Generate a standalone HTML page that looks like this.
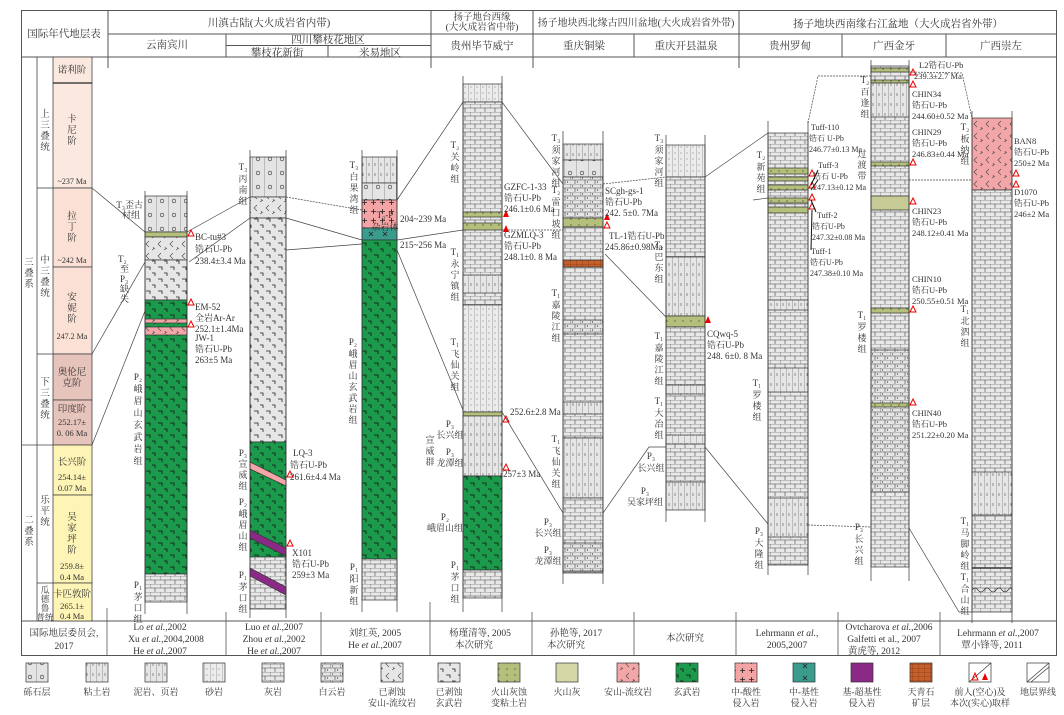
<!DOCTYPE html>
<html><head><meta charset="utf-8"><style>
html,body{margin:0;padding:0;background:#fff}
svg text{font-family:"Liberation Serif","Noto Serif CJK SC","Noto Sans CJK SC",serif;fill:#333}
</style></head><body>
<svg width="1064" height="710" viewBox="0 0 1064 710" xmlns="http://www.w3.org/2000/svg">
<defs>
<pattern id="ls" width="10" height="8" patternUnits="userSpaceOnUse"><rect width="10" height="8" fill="#e8e8e8"/><path d="M0 0H10M0 4H10M0 0V4M5 4V8" stroke="#444" stroke-width=".6"/></pattern>
<pattern id="dol" width="10" height="8" patternUnits="userSpaceOnUse"><rect width="10" height="8" fill="#e4e4e4"/><path d="M0 0H10M0 4H10M0 0V4M5 4V8M2.5 1V3M7.5 5V7" stroke="#444" stroke-width=".6"/></pattern>
<pattern id="bg" width="12" height="12" patternUnits="userSpaceOnUse"><rect width="12" height="12" fill="#1c9a4b"/><path d="M2 3H6V6M8 9H11V12" stroke="#111" stroke-width=".8" fill="none"/></pattern>
<pattern id="wb" width="12" height="12" patternUnits="userSpaceOnUse"><rect width="12" height="12" fill="#e6e6e6"/><path d="M2 3H6V6M8 9H11V12" stroke="#222" stroke-width=".8" fill="none"/></pattern>
<pattern id="cg" width="12" height="14" patternUnits="userSpaceOnUse"><rect width="12" height="14" fill="#e4e4e4"/><path d="M0 0V14" stroke="#555" stroke-width=".6"/><circle cx="6" cy="5" r="1.8" fill="none" stroke="#333" stroke-width=".6"/></pattern>
<pattern id="md" width="6" height="10" patternUnits="userSpaceOnUse"><rect width="6" height="10" fill="#e6e6e6"/><path d="M0 0V10M3 3V6" stroke="#555" stroke-width=".6"/></pattern>
<pattern id="ss" width="6" height="6" patternUnits="userSpaceOnUse"><rect width="6" height="6" fill="#ececec"/><path d="M0 0V6" stroke="#666" stroke-width=".6"/><circle cx="3" cy="3" r=".5" fill="#555"/></pattern>
<pattern id="tf" width="8" height="6" patternUnits="userSpaceOnUse"><rect width="8" height="6" fill="#b4bf7c"/><circle cx="3" cy="3" r=".6" fill="#333"/></pattern>
<pattern id="an" width="12" height="12" patternUnits="userSpaceOnUse"><rect width="12" height="12" fill="#e6e6e6"/><path d="M5 1L2 4L5 7M9 7L10 9M8 10L11 8" stroke="#444" stroke-width=".6" fill="none"/></pattern>
<pattern id="pk" width="12" height="12" patternUnits="userSpaceOnUse"><rect width="12" height="12" fill="#f3a6a8"/><path d="M5 1L2 4L5 7M9 7L10 9M8 10L11 8" stroke="#444" stroke-width=".6" fill="none"/></pattern>
<pattern id="ip" width="9" height="9" patternUnits="userSpaceOnUse"><rect width="9" height="9" fill="#f4a4a4"/><path d="M2 4.5H7M4.5 2V7" stroke="#222" stroke-width=".8"/></pattern>
<pattern id="te" width="14" height="12" patternUnits="userSpaceOnUse"><rect width="14" height="12" fill="#3a9c8c"/><path d="M5 4L9 8M9 4L5 8" stroke="#222" stroke-width=".8"/></pattern>
<pattern id="or" width="6" height="4" patternUnits="userSpaceOnUse"><rect width="6" height="4" fill="#c5602a"/><path d="M0 0V4M0 0H6" stroke="#6a2a10" stroke-width=".5"/></pattern>
</defs>

<!-- frame -->
<g stroke="#555" stroke-width="1" fill="none">
<rect x="21.5" y="10.5" width="1035" height="645"/>
<line x1="21" y1="57" x2="1057" y2="57"/>
<line x1="108" y1="34" x2="1057" y2="34"/>
<line x1="226" y1="45.5" x2="431" y2="45.5"/>
<line x1="108" y1="10" x2="108" y2="68"/>
<line x1="226" y1="34" x2="226" y2="57"/>
<line x1="328" y1="45.5" x2="328" y2="57"/>
<line x1="431" y1="10" x2="431" y2="68"/>
<line x1="533" y1="10" x2="533" y2="68"/>
<line x1="634" y1="34" x2="634" y2="57"/>
<line x1="739" y1="10" x2="739" y2="68"/>
<line x1="842" y1="34" x2="842" y2="57"/>
<line x1="946" y1="34" x2="946" y2="57"/>
<line x1="21" y1="621" x2="1057" y2="621"/>
<g stroke-width=".8">
<line x1="107" y1="608" x2="107" y2="656"/><line x1="226" y1="612" x2="226" y2="656"/><line x1="321" y1="612" x2="321" y2="656"/>
<line x1="430" y1="602" x2="430" y2="656"/><line x1="532" y1="612" x2="532" y2="656"/><line x1="634" y1="612" x2="634" y2="656"/>
<line x1="736" y1="612" x2="736" y2="656"/><line x1="838" y1="612" x2="838" y2="656"/><line x1="940" y1="612" x2="940" y2="656"/>
</g>
</g>
<!-- headers -->
<g font-size="10.5" text-anchor="middle">
<text x="64" y="37">国际年代地层表</text>
<text x="269" y="26">川滇古陆(大火成岩省内带)</text>
<text x="482" y="20" font-size="9.5">扬子地台西缘</text><text x="482" y="30" font-size="9.5">(大火成岩省中带)</text>
<text x="636" y="26" font-size="10">扬子地块西北缘古四川盆地(大火成岩省外带)</text>
<text x="898" y="27">扬子地块西南缘右江盆地（大火成岩省外带）</text>
<text x="167" y="48">云南宾川</text>
<text x="328" y="43">四川攀枝花地区</text>
<text x="277" y="56">攀枝花新街</text><text x="380" y="56">米易地区</text>
<text x="482" y="49">贵州毕节威宁</text>
<text x="584" y="49">重庆铜梁</text><text x="686" y="49">重庆开县温泉</text>
<text x="790" y="49">贵州罗甸</text><text x="894" y="49">广西金牙</text><text x="1001" y="49">广西崇左</text>
</g>

<!-- timescale -->
<g stroke="#444" stroke-width=".8">
<rect x="53" y="57" width="39" height="26" fill="#fbe9df"/>
<rect x="53" y="83" width="39" height="105" fill="#fbe9df"/>
<rect x="53" y="188" width="39" height="79" fill="#fbe1d5"/>
<rect x="53" y="267" width="39" height="87" fill="#fbe1d5"/>
<rect x="53" y="354" width="39" height="46" fill="#e6c3bb"/>
<rect x="53" y="400" width="39" height="45" fill="#e6c3bb"/>
<rect x="53" y="445" width="39" height="50" fill="#fdf4b5"/>
<rect x="53" y="495" width="39" height="88" fill="#fdf4b5"/>
<rect x="53" y="583" width="39" height="38" fill="#fdf4b5"/>
<line x1="37" y1="57" x2="37" y2="621" fill="none"/>
<line x1="37" y1="188" x2="53" y2="188"/><line x1="37" y1="354" x2="53" y2="354"/><line x1="22" y1="445" x2="53" y2="445"/><line x1="37" y1="583" x2="53" y2="583"/>
<line x1="53" y1="83" x2="92" y2="83" stroke-width="1.6"/>
</g>
<g font-size="9.5" text-anchor="middle">
<text x="72" y="73">诺利阶</text>
<text x="72" y="122">卡</text><text x="72" y="133">尼</text><text x="72" y="144">阶</text><text x="72" y="184" font-size="8">~237 Ma</text>
<text x="72" y="219">拉</text><text x="72" y="230">丁</text><text x="72" y="241">阶</text><text x="72" y="263" font-size="8">~242 Ma</text>
<text x="72" y="300">安</text><text x="72" y="311">妮</text><text x="72" y="322">阶</text><text x="72" y="339" font-size="8">247.2 Ma</text>
<text x="72" y="375">奥伦尼</text><text x="72" y="386">克阶</text>
<text x="72" y="412">印度阶</text><text x="72" y="425" font-size="8.5">252.17±</text><text x="72" y="436" font-size="8.5">0. 06 Ma</text>
<text x="72" y="465">长兴阶</text><text x="72" y="480" font-size="8.5">254.14±</text><text x="72" y="491" font-size="8.5">0.07 Ma</text>
<text x="72" y="520">吴</text><text x="72" y="531">家</text><text x="72" y="542">坪</text><text x="72" y="553">阶</text><text x="72" y="569" font-size="8.5">259.8±</text><text x="72" y="580" font-size="8.5">0.4 Ma</text>
<text x="72" y="597">卡匹敦阶</text><text x="72" y="609" font-size="8.5">265.1±</text><text x="72" y="619" font-size="8.5">0.4 Ma</text>
<text x="45" y="117">上</text><text x="45" y="128">三</text><text x="45" y="139">叠</text><text x="45" y="150">统</text>
<text x="45" y="263">中</text><text x="45" y="274">三</text><text x="45" y="285">叠</text><text x="45" y="296">统</text>
<text x="45" y="385">下</text><text x="45" y="396">三</text><text x="45" y="407">叠</text><text x="45" y="418">统</text>
<text x="45" y="503">乐</text><text x="45" y="514">平</text><text x="45" y="525">统</text>
<text x="45" y="593" font-size="8.5">瓜</text><text x="45" y="602" font-size="8.5">德</text><text x="45" y="611" font-size="8.5">鲁</text><text x="45" y="620" font-size="8.5">普统</text>
<text x="29" y="265">三</text><text x="29" y="276">叠</text><text x="29" y="287">系</text>
<text x="29" y="523">二</text><text x="29" y="534">叠</text><text x="29" y="545">系</text>
</g>

<!-- connectors -->
<g stroke="#444" stroke-width=".7" fill="none">
<path d="M92 188L145 232"/><path d="M187 232L250 197"/><path d="M189 262L250 218"/>
<path d="M92 354L145 262"/><path d="M92 445L145 311"/>
<path d="M286 197L362 210" stroke-dasharray="2 1"/><path d="M286 218L362 240"/><path d="M286 250L362 244"/>
<path d="M397 200L463 102"/><path d="M397 240L463 230"/><path d="M397 250L463 410"/>
<path d="M502 102L563 184"/><path d="M502 230L563 230" stroke-dasharray="2 1"/><path d="M502 412L563 513"/>
<path d="M603 184L666 177" stroke-dasharray="2 1"/><path d="M605 254L666 317"/><path d="M603 513L649 447L666 447"/>
<path d="M705 177L768 133"/><path d="M705 447L768 524"/><path d="M753 200L768 198"/>
<path d="M808 123L818 76L871 76" stroke-dasharray="2 1"/><path d="M808 525L871 527" stroke-dasharray="2 1"/>
<path d="M909 72L962 73L972 118" stroke-dasharray="2 1"/><path d="M909 180L1012 180" stroke-dasharray="2 1"/><path d="M909 528L959 612L972 612"/>
</g>

<!-- column 1 -->
<g stroke="#333" stroke-width=".7">
<rect x="145" y="196" width="42" height="36" fill="url(#cg)"/>
<rect x="145" y="232" width="42" height="5" fill="url(#tf)"/>
<rect x="145" y="237" width="42" height="23" fill="url(#an)"/>
<rect x="145" y="260" width="42" height="40" fill="url(#wb)"/>
<rect x="145" y="300" width="42" height="274" fill="url(#bg)"/>
<rect x="145" y="319" width="42" height="4" fill="url(#pk)"/>
<rect x="145" y="327" width="42" height="8" fill="url(#pk)"/>
<rect x="145" y="574" width="42" height="28" fill="url(#ls)"/>
<path d="M145 191V614M187 191V614" fill="none"/>
</g>
<!-- column 2 -->
<g stroke="#333" stroke-width=".7">
<rect x="250" y="157" width="36" height="40" fill="url(#cg)"/>
<rect x="250" y="197" width="36" height="21" fill="url(#an)"/>
<rect x="250" y="218" width="36" height="224" fill="url(#wb)"/>
<rect x="250" y="442" width="36" height="115" fill="url(#bg)"/>
<path d="M250 462L286 480V486L250 469Z" fill="#f3a6a8"/>
<path d="M250 530L286 548V556L250 538Z" fill="#8b2a86"/>
<rect x="250" y="557" width="36" height="52" fill="url(#ls)"/>
<path d="M250 568L286 587V595L250 576Z" fill="#8b2a86"/>
<path d="M250 150V618M286 150V618" fill="none"/>
</g>
<!-- column 3 -->
<g stroke="#333" stroke-width=".7">
<rect x="362" y="157" width="35" height="26" fill="url(#md)"/>
<rect x="362" y="183" width="35" height="17" fill="url(#cg)"/>
<rect x="362" y="200" width="35" height="28" fill="url(#ip)"/>
<rect x="362" y="228" width="35" height="12" fill="url(#te)"/>
<rect x="362" y="240" width="35" height="319" fill="url(#bg)"/>
<rect x="362" y="559" width="35" height="41" fill="url(#ls)"/>
<path d="M362 150V612M397 150V612" fill="none"/>
</g>
<!-- column 4 -->
<g stroke="#333" stroke-width=".7">
<rect x="463" y="84" width="39" height="18" fill="url(#ss)"/>
<rect x="463" y="102" width="39" height="203" fill="url(#ls)"/>
<rect x="463" y="212" width="39" height="5" fill="url(#tf)"/>
<rect x="463" y="223" width="39" height="7" fill="url(#tf)"/>
<rect x="463" y="275" width="39" height="18" fill="url(#md)"/>
<rect x="463" y="305" width="39" height="107" fill="url(#ss)"/>
<rect x="463" y="412" width="39" height="4" fill="url(#tf)"/>
<rect x="463" y="416" width="39" height="60" fill="url(#md)"/>
<rect x="463" y="476" width="39" height="94" fill="url(#bg)"/>
<rect x="463" y="570" width="39" height="28" fill="url(#ls)"/>
<path d="M463 76V612M502 76V612" fill="none"/>
</g>
<!-- column 5 -->
<g stroke="#333" stroke-width=".7">
<rect x="563" y="144" width="40" height="16" fill="url(#md)"/>
<rect x="563" y="160" width="40" height="17" fill="url(#cg)"/>
<rect x="563" y="177" width="40" height="41" fill="url(#dol)"/>
<rect x="563" y="218" width="40" height="9" fill="url(#tf)"/>
<rect x="563" y="227" width="40" height="211" fill="url(#ls)"/>
<rect x="563" y="260" width="40" height="7" fill="url(#or)"/>
<rect x="563" y="320" width="40" height="14" fill="url(#dol)"/>
<rect x="563" y="402" width="40" height="12" fill="url(#md)"/>
<rect x="563" y="438" width="40" height="60" fill="url(#md)"/>
<rect x="563" y="498" width="40" height="75" fill="url(#ls)"/>
<rect x="563" y="543" width="40" height="28" fill="url(#dol)"/>
<path d="M563 131V584M603 131V584" fill="none"/>
</g>
<!-- column 6 -->
<g stroke="#333" stroke-width=".7">
<rect x="666" y="145" width="39" height="32" fill="url(#ss)"/>
<rect x="666" y="177" width="39" height="80" fill="url(#ls)"/>
<rect x="666" y="257" width="39" height="59" fill="url(#md)"/>
<rect x="666" y="316" width="39" height="11" fill="url(#tf)"/>
<rect x="666" y="327" width="39" height="155" fill="url(#ls)"/>
<rect x="666" y="385" width="39" height="9" fill="url(#md)"/>
<rect x="666" y="435" width="39" height="9" fill="url(#md)"/>
<rect x="666" y="482" width="39" height="28" fill="url(#md)"/>
<path d="M666 135V522M705 135V522" fill="none"/>
</g>
<!-- column 7 -->
<g stroke="#333" stroke-width=".7">
<rect x="768" y="133" width="40" height="432" fill="url(#ls)"/>
<rect x="768" y="168" width="40" height="6" fill="url(#tf)"/>
<rect x="768" y="177" width="40" height="4" fill="url(#tf)"/>
<rect x="768" y="185" width="40" height="5" fill="url(#tf)"/>
<rect x="768" y="198" width="40" height="5" fill="url(#tf)"/>
<rect x="768" y="207" width="40" height="6" fill="url(#tf)"/>
<rect x="768" y="300" width="40" height="10" fill="url(#md)"/>
<rect x="768" y="368" width="40" height="24" fill="url(#md)"/>
<rect x="768" y="498" width="40" height="39" fill="url(#md)"/>
<path d="M768 121V575M808 121V575" fill="none"/>
</g>
<!-- column 8 -->
<g stroke="#333" stroke-width=".7">
<rect x="871" y="66" width="38" height="501" fill="url(#ls)"/>
<rect x="871" y="68" width="38" height="4" fill="url(#tf)"/>
<rect x="871" y="80" width="38" height="3" fill="url(#tf)"/>
<rect x="871" y="83" width="38" height="34" fill="url(#md)"/>
<rect x="871" y="162" width="38" height="4" fill="url(#tf)"/>
<rect x="871" y="196" width="38" height="14" fill="#c6ca95"/>
<rect x="871" y="308" width="38" height="5" fill="url(#tf)"/>
<rect x="871" y="350" width="38" height="142" fill="url(#dol)"/>
<rect x="871" y="403" width="38" height="4" fill="url(#tf)"/>
<path d="M871 60V581M909 60V581" fill="none"/>
</g>
<!-- column 9 -->
<g stroke="#333" stroke-width=".7">
<rect x="972" y="118" width="40" height="72" fill="url(#pk)"/>
<rect x="972" y="190" width="40" height="422" fill="url(#ls)"/>
<rect x="972" y="472" width="40" height="43" fill="url(#md)"/>
<path d="M972 568H1012" stroke-width="1.4"/>
<path d="M972 590q3 -4 6 0t6 0t6 0t6 0t6 0t6 0t4 0" fill="none"/>
<path d="M972 111V623M1012 111V623" fill="none"/>
</g>

<!-- sample triangles -->
<g stroke="#e00" stroke-width="1" fill="none">
<path d="M188 236l3 -6l3 6z"/><path d="M188 305l3 -6l3 6z"/><path d="M188 327l3 -6l3 6z"/>
<path d="M287 477l3 -6l3 6z"/><path d="M287 546l3 -6l3 6z"/>
<path d="M503 422l3 -6l3 6z"/><path d="M503 470l3 -6l3 6z"/>
<path d="M604 228l3 -6l3 6z"/>
<path d="M809 176l3 -6l3 6z"/><path d="M809 188l3 -6l3 6z"/><path d="M809 200l3 -6l3 6z"/><path d="M809 209l3 -6l3 6z"/>
<path d="M910 75l3 -6l3 6z"/><path d="M910 87l3 -6l3 6z"/><path d="M910 165l3 -6l3 6z"/><path d="M910 204l3 -6l3 6z"/><path d="M910 312l3 -6l3 6z"/><path d="M910 405l3 -6l3 6z"/>
<path d="M1013 176l3 -6l3 6z"/><path d="M1013 187l3 -6l3 6z"/>
</g>
<g fill="#e00"><path d="M503 217l3 -7l3 7z"/><path d="M503 232l3 -7l3 7z"/><path d="M604 220l3 -7l3 7z"/><path d="M705 323l3 -7l3 7z"/></g>

<!-- labels -->
<g font-size="9">
<text x="118" y="262">T₂</text><text x="120" y="272">至</text><text x="120" y="282">P₃</text><text x="120" y="292">缺</text><text x="120" y="302">失</text>
<text x="143" y="208" text-anchor="end">T₃歪古</text><text x="140" y="218" text-anchor="end">村组</text>
<text x="195" y="240">BC-tu#3</text><text x="195" y="252">锆石U-Pb</text><text x="195" y="264">238.4±3.4 Ma</text>
<text x="195" y="310">EM-52</text><text x="195" y="321">全岩Ar-Ar</text><text x="195" y="332">252.1±1.4Ma</text><text x="195" y="341">JW-1</text><text x="195" y="352">锆石U-Pb</text><text x="195" y="363">263±5 Ma</text>
<g text-anchor="middle"><text x="138" y="380">P₂</text><text x="138" y="392">峨</text><text x="138" y="404">眉</text><text x="138" y="416">山</text><text x="138" y="428">玄</text><text x="138" y="440">武</text><text x="138" y="452">岩</text><text x="138" y="464">组</text>
<text x="138" y="588">P₁</text><text x="138" y="600">茅</text><text x="138" y="611">口</text><text x="138" y="622">组</text>
<text x="243" y="170">T₃</text><text x="243" y="182">丙</text><text x="243" y="193">南</text><text x="243" y="204">组</text>
<text x="243" y="456">P₃</text><text x="243" y="467">宣</text><text x="243" y="478">威</text><text x="243" y="489">组</text>
<text x="243" y="505">P₂</text><text x="243" y="517">峨</text><text x="243" y="528">眉</text><text x="243" y="539">山</text><text x="243" y="550">组</text>
<text x="243" y="578">P₁</text><text x="243" y="590">茅</text><text x="243" y="601">口</text><text x="243" y="612">组</text>
<text x="354" y="168">T₃</text><text x="354" y="180">白</text><text x="354" y="191">果</text><text x="354" y="202">湾</text><text x="354" y="213">组</text>
<text x="353" y="345">P₂</text><text x="353" y="357">峨</text><text x="353" y="368">眉</text><text x="353" y="379">山</text><text x="353" y="390">玄</text><text x="353" y="401">武</text><text x="353" y="412">岩</text><text x="353" y="423">组</text>
<text x="354" y="570">P₁</text><text x="354" y="582">阳</text><text x="354" y="593">新</text><text x="354" y="604">组</text>
<text x="455" y="148">T₂</text><text x="455" y="160">关</text><text x="455" y="171">岭</text><text x="455" y="182">组</text>
<text x="455" y="255">T₁</text><text x="455" y="267">永</text><text x="455" y="278">宁</text><text x="455" y="289">镇</text><text x="455" y="300">组</text>
<text x="455" y="345">T₁</text><text x="455" y="357">飞</text><text x="455" y="368">仙</text><text x="455" y="379">关</text><text x="455" y="390">组</text>
<text x="450" y="427">P₃</text><text x="450" y="438">长兴组</text><text x="430" y="443">宣</text><text x="430" y="454">威</text><text x="430" y="465">群</text>
<text x="450" y="455">P₃</text><text x="450" y="466">龙潭组</text>
<text x="445" y="520">P₂</text><text x="445" y="531">峨眉山组</text>
<text x="455" y="568">P₁</text><text x="455" y="580">茅</text><text x="455" y="591">口</text><text x="455" y="602">组</text>
<text x="556" y="141">T₃</text><text x="556" y="153">须</text><text x="556" y="164">家</text><text x="556" y="175">河</text><text x="556" y="186">组</text>
<text x="556" y="193">T₂</text><text x="556" y="205">雷</text><text x="556" y="216">口</text><text x="556" y="227">坡</text><text x="556" y="238">组</text>
<text x="556" y="296">T₁</text><text x="556" y="308">嘉</text><text x="556" y="319">陵</text><text x="556" y="330">江</text><text x="556" y="341">组</text>
<text x="556" y="442">T₁</text><text x="556" y="454">飞</text><text x="556" y="465">仙</text><text x="556" y="476">关</text><text x="556" y="487">组</text>
<text x="548" y="525">P₃</text><text x="548" y="536">长兴组</text><text x="548" y="553">P₃</text><text x="548" y="564">龙潭组</text>
<text x="659" y="141">T₃</text><text x="659" y="153">须</text><text x="659" y="164">家</text><text x="659" y="175">河</text><text x="659" y="186">组</text>
<text x="659" y="248">T₂</text><text x="659" y="260">巴</text><text x="659" y="271">东</text><text x="659" y="282">组</text>
<text x="659" y="339">T₁</text><text x="659" y="351">嘉</text><text x="659" y="362">陵</text><text x="659" y="373">江</text><text x="659" y="384">组</text>
<text x="659" y="404">T₁</text><text x="659" y="416">大</text><text x="659" y="427">冶</text><text x="659" y="438">组</text>
<text x="651" y="459">P₃</text><text x="651" y="471">长兴组</text><text x="645" y="494">P₃</text><text x="645" y="505">吴家坪组</text>
<text x="761" y="158">T₂</text><text x="761" y="170">新</text><text x="761" y="181">苑</text><text x="761" y="192">组</text>
<text x="757" y="386">T₁</text><text x="757" y="398">罗</text><text x="757" y="409">楼</text><text x="757" y="420">组</text>
<text x="759" y="534">P₃</text><text x="759" y="546">大</text><text x="759" y="557">隆</text><text x="759" y="568">组</text>
<text x="865" y="83">T₂</text><text x="865" y="95">百</text><text x="865" y="106">逢</text><text x="865" y="117">组</text>
<text x="862" y="157">过</text><text x="862" y="168">渡</text><text x="862" y="179">带</text>
<text x="862" y="318">T₁</text><text x="862" y="330">罗</text><text x="862" y="341">楼</text><text x="862" y="352">组</text>
<text x="859" y="530">P₃</text><text x="859" y="542">长</text><text x="859" y="553">兴</text><text x="859" y="564">组</text>
<text x="965" y="130">T₂</text><text x="965" y="142">板</text><text x="965" y="153">纳</text><text x="965" y="164">组</text>
<text x="965" y="312">T₁</text><text x="965" y="324">北</text><text x="965" y="335">泗</text><text x="965" y="346">组</text>
<text x="965" y="524">T₁</text><text x="965" y="536">马</text><text x="965" y="547">脚</text><text x="965" y="558">岭</text><text x="965" y="569">组</text>
<text x="965" y="580">T₁</text><text x="965" y="592">合</text><text x="965" y="603">山</text><text x="965" y="614">组</text>
<text x="385" y="218">T₃-P</text><text x="385" y="230">杂岩体</text>
</g>
<text x="293" y="456">LQ-3</text><text x="290" y="468">锆石U-Pb</text><text x="290" y="480">261.6±4.4 Ma</text>
<text x="292" y="556">X101</text><text x="292" y="567">锆石U-Pb</text><text x="292" y="578">259±3 Ma</text>
<text x="400" y="222">204~239 Ma</text><text x="400" y="248">215~256 Ma</text>
<text x="504" y="190">GZFC-1-33</text><text x="504" y="201">锆石U-Pb</text><text x="504" y="212">246.1±0.6 Ma</text>
<text x="504" y="238">GZMLQ-3</text><text x="504" y="249">锆石U-Pb</text><text x="504" y="260">248.1±0. 8 Ma</text>
<text x="510" y="415">252.6±2.8 Ma</text><text x="503" y="477">257±3 Ma</text>
<text x="605" y="194">SCgh-gs-1</text><text x="605" y="205">锆石U-Pb</text><text x="605" y="216">242. 5±0. 7Ma</text>
<text x="609" y="239">TL-1锆石U-Pb</text><text x="605" y="250">245.86±0.98Ma</text>
<text x="707" y="337">CQwq-5</text><text x="707" y="348">锆石U-Pb</text><text x="707" y="359">248. 6±0. 8 Ma</text>
<text x="811" y="130" font-size="8">Tuff-110</text><text x="809" y="141" font-size="8">锆石 U-Pb</text><text x="809" y="152" font-size="8">246.77±0.13 Ma</text>
<text x="818" y="168" font-size="8">Tuff-3</text><text x="813" y="179" font-size="8">锆石 U-Pb</text><text x="813" y="190" font-size="8">247.13±0.12 Ma</text>
<text x="817" y="218" font-size="8">Tuff-2</text><text x="812" y="229" font-size="8">锆石U-Pb</text><text x="812" y="240" font-size="8">247.32±0.08 Ma</text>
<text x="811" y="254" font-size="8">Tuff-1</text><text x="810" y="265" font-size="8">锆石U-Pb</text><text x="810" y="276" font-size="8">247.38±0.10 Ma</text>
<g font-size="8.5">
<text x="919" y="68">L2锆石U-Pb</text><text x="914" y="79">239.3±2.7 Ma</text>
<text x="912" y="97">CHIN34</text><text x="912" y="108">锆石U-Pb</text><text x="912" y="119">244.60±0.52 Ma</text>
<text x="912" y="135">CHIN29</text><text x="912" y="146">锆石U-Pb</text><text x="912" y="157">246.83±0.44 Ma</text>
<text x="912" y="214">CHIN23</text><text x="912" y="225">锆石U-Pb</text><text x="912" y="236">248.12±0.41 Ma</text>
<text x="912" y="282">CHIN10</text><text x="912" y="293">锆石U-Pb</text><text x="912" y="304">250.55±0.51 Ma</text>
<text x="912" y="416">CHIN40</text><text x="912" y="427">锆石U-Pb</text><text x="912" y="438">251.22±0.20 Ma</text>
<text x="1014" y="144">BAN8</text><text x="1014" y="155">锆石U-Pb</text><text x="1014" y="166">250±2 Ma</text>
<text x="1014" y="195">D1070</text><text x="1014" y="206">锆石U-Pb</text><text x="1014" y="217">246±2 Ma</text>
</g>
<g stroke="#111" stroke-width="1"><path d="M811 185L818 170M811 190L818 180M811 200L816 212M812 210L811 250"/></g>
<!-- reference row -->
<g font-size="9.5" text-anchor="middle">
<text x="64" y="636">国际地层委员会,</text><text x="64" y="649">2017</text>
<text x="160" y="630">Lo <tspan font-style="italic">et al.</tspan>,2002</text><text x="166" y="642">Xu <tspan font-style="italic">et al.</tspan>,2004,2008</text><text x="160" y="654">He <tspan font-style="italic">et al.</tspan>,2007</text>
<text x="274" y="630">Luo <tspan font-style="italic">et al.</tspan>,2007</text><text x="274" y="642">Zhou <tspan font-style="italic">et al.</tspan>,2002</text><text x="274" y="654">He <tspan font-style="italic">et al.</tspan>,2007</text>
<text x="375" y="636">刘红英, 2005</text><text x="375" y="648">He <tspan font-style="italic">et al.</tspan>,2007</text>
<text x="480" y="636">杨瑾清等, 2005</text><text x="474" y="648">本次研究</text>
<text x="576" y="636">孙艳等, 2017</text><text x="566" y="648">本次研究</text>
<text x="685" y="641">本次研究</text>
<text x="787" y="636">Lehrmann <tspan font-style="italic">et al.</tspan>,</text><text x="787" y="648">2005,2007</text>
<text x="889" y="630">Ovtcharova <tspan font-style="italic">et al.</tspan>,2006</text><text x="884" y="642">Galfetti et al., 2007</text><text x="874" y="654">黄虎等, 2012</text>
<text x="998" y="636">Lehrmann <tspan font-style="italic">et al.</tspan>,2007</text><text x="992" y="648">覃小锋等, 2011</text>
</g>
<!-- legend -->
<g stroke="#333" stroke-width=".7">
<rect x="26" y="663" width="22" height="19" fill="url(#cg)"/>
<rect x="86" y="663" width="22" height="19" fill="url(#md)"/>
<rect x="145" y="663" width="22" height="19" fill="url(#md)"/>
<rect x="203" y="663" width="22" height="19" fill="url(#ss)"/>
<rect x="262" y="663" width="22" height="19" fill="url(#ls)"/>
<rect x="321" y="663" width="22" height="19" fill="url(#dol)"/>
<rect x="381" y="663" width="22" height="19" fill="url(#an)"/>
<rect x="438" y="663" width="22" height="19" fill="url(#wb)"/>
<rect x="498" y="663" width="22" height="19" fill="url(#tf)"/>
<rect x="556" y="663" width="22" height="19" fill="#d4d7a6"/>
<rect x="617" y="663" width="22" height="19" fill="url(#pk)"/>
<rect x="676" y="663" width="22" height="19" fill="url(#bg)"/>
<rect x="735" y="663" width="22" height="19" fill="url(#ip)"/>
<rect x="793" y="663" width="22" height="19" fill="url(#te)"/>
<rect x="851" y="663" width="22" height="19" fill="#8b2a86"/>
<rect x="910" y="663" width="22" height="19" fill="url(#or)"/>
<rect x="969" y="663" width="22" height="19" fill="#fff"/>
<rect x="1027" y="663" width="22" height="19" fill="#fff"/>
<path d="M969 682L991 663M1027 682L1049 663M1031 682L1049 667" fill="none"/>
</g>
<path d="M972 680l3 -7l3 7z" fill="none" stroke="#e00"/><path d="M982 680l3 -7l3 7z" fill="#e00"/>
<g font-size="9" text-anchor="middle">
<text x="37" y="695">砾石层</text><text x="97" y="695">粘土岩</text><text x="156" y="695">泥岩、页岩</text><text x="214" y="695">砂岩</text><text x="273" y="695">灰岩</text><text x="332" y="695">白云岩</text>
<text x="392" y="695">已剥蚀</text><text x="392" y="706">安山-流纹岩</text>
<text x="449" y="695">已剥蚀</text><text x="449" y="706">玄武岩</text>
<text x="509" y="695">火山灰蚀</text><text x="509" y="706">变粘土岩</text>
<text x="567" y="695">火山灰</text><text x="628" y="695">安山-流纹岩</text><text x="687" y="695">玄武岩</text>
<text x="746" y="695">中-酸性</text><text x="746" y="706">侵入岩</text>
<text x="804" y="695">中-基性</text><text x="804" y="706">侵入岩</text>
<text x="862" y="695">基-超基性</text><text x="862" y="706">侵入岩</text>
<text x="921" y="695">天青石</text><text x="921" y="706">矿层</text>
<text x="980" y="695">前人(空心)及</text><text x="980" y="706">本次(实心)取样</text>
<text x="1038" y="695">地层界线</text>
</g>
</svg>
</body></html>
